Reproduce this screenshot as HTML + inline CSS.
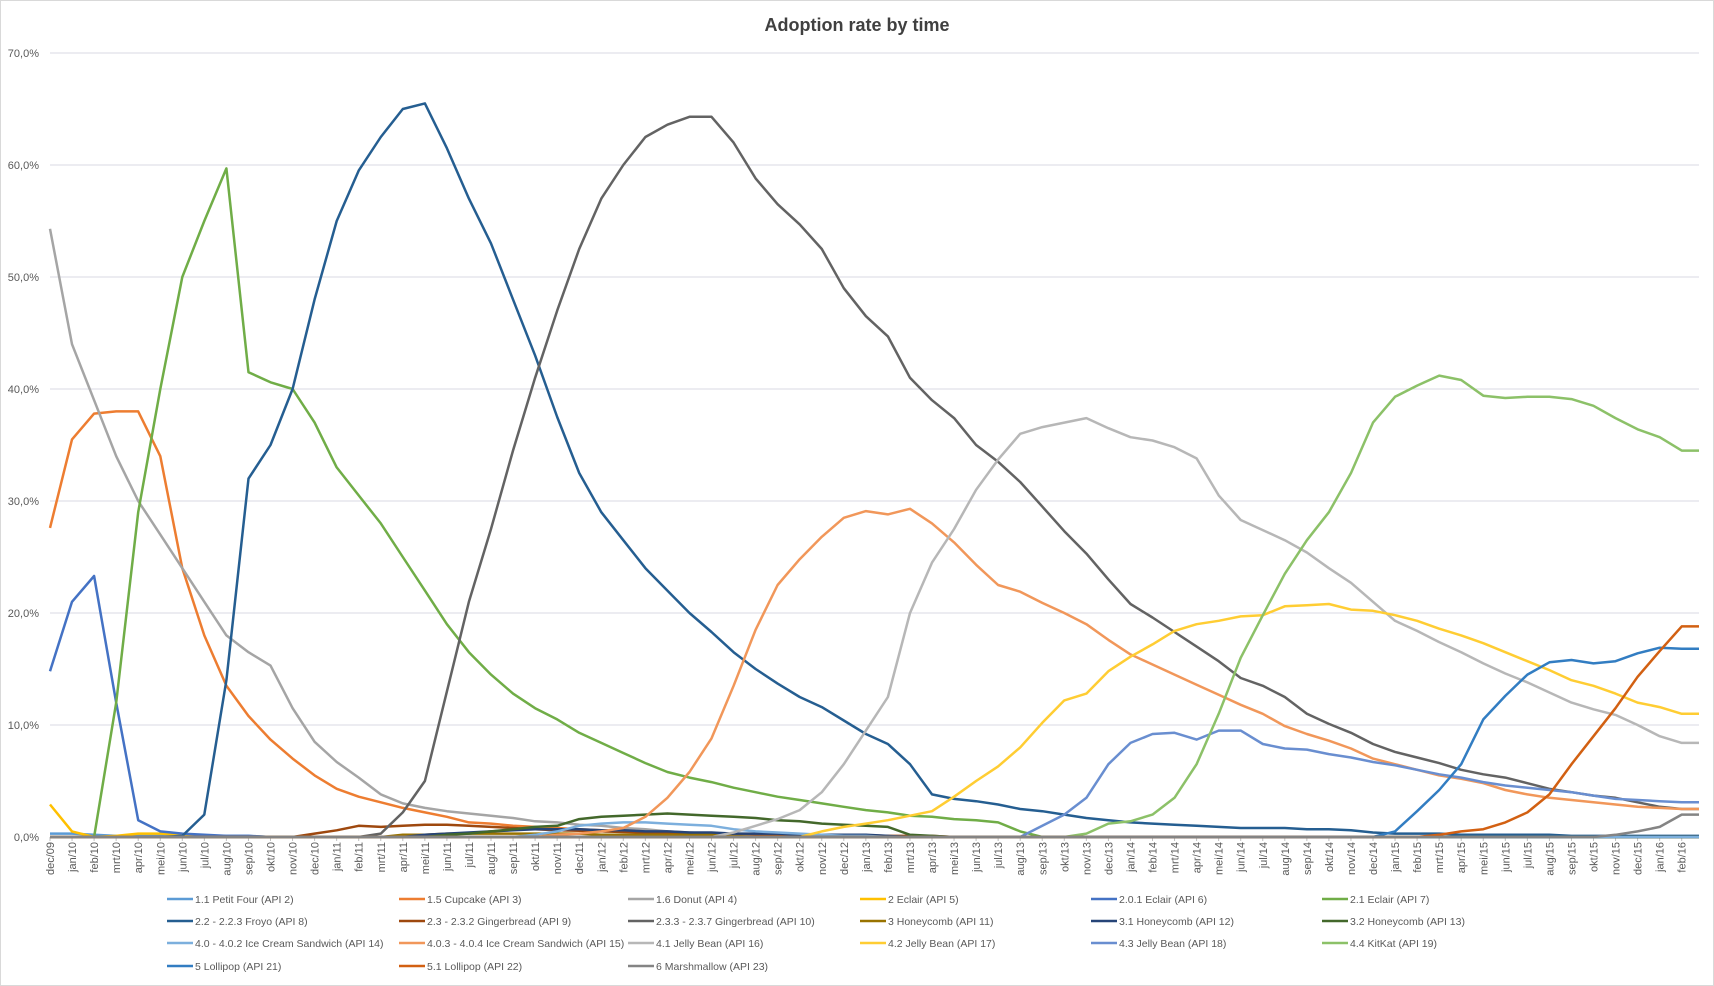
<!DOCTYPE html>
<html><head><meta charset="utf-8"><style>
body{margin:0;background:#fff;}
#wrap{position:relative;width:1714px;height:986px;overflow:hidden;background:#fff;font-family:"Liberation Sans",sans-serif;}
</style></head><body>
<div id="wrap">
<svg id="chart" width="1714" height="986" xmlns="http://www.w3.org/2000/svg">
<rect x="0.5" y="0.5" width="1713" height="985" fill="#fff" stroke="#d9d9d9"/>
<text x="857" y="31" text-anchor="middle" font-size="18" font-weight="bold" fill="#404040" font-family="Liberation Sans, sans-serif">Adoption  rate by time</text>
<g id="grid"></g><g id="xlabels"></g><g id="lines"></g><g id="legend"></g>
</svg>
</div>
<script>
const monthLabels=["dec/09","jan/10","feb/10","mrt/10","apr/10","mei/10","jun/10","jul/10","aug/10","sep/10","okt/10","nov/10","dec/10","jan/11","feb/11","mrt/11","apr/11","mei/11","jun/11","jul/11","aug/11","sep/11","okt/11","nov/11","dec/11","jan/12","feb/12","mrt/12","apr/12","mei/12","jun/12","jul/12","aug/12","sep/12","okt/12","nov/12","dec/12","jan/13","feb/13","mrt/13","apr/13","mei/13","jun/13","jul/13","aug/13","sep/13","okt/13","nov/13","dec/13","jan/14","feb/14","mrt/14","apr/14","mei/14","jun/14","jul/14","aug/14","sep/14","okt/14","nov/14","dec/14","jan/15","feb/15","mrt/15","apr/15","mei/15","jun/15","jul/15","aug/15","sep/15","okt/15","nov/15","dec/15","jan/16","feb/16"];
const yTicks=[0,10,20,30,40,50,60,70];
const yTickLabels=["0,0%","10,0%","20,0%","30,0%","40,0%","50,0%","60,0%","70,0%"];
const seriesNames=["1.1 Petit Four (API 2)","1.5 Cupcake (API 3)","1.6 Donut (API 4)","2 Eclair (API 5)","2.0.1 Eclair (API 6)","2.1 Eclair (API 7)","2.2 - 2.2.3 Froyo (API 8)","2.3 - 2.3.2 Gingerbread (API 9)","2.3.3 - 2.3.7 Gingerbread (API 10)","3 Honeycomb (API 11)","3.1 Honeycomb (API 12)","3.2 Honeycomb (API 13)","4.0 - 4.0.2 Ice Cream Sandwich (API 14)","4.0.3 - 4.0.4 Ice Cream Sandwich (API 15)","4.1 Jelly Bean (API 16)","4.2 Jelly Bean (API 17)","4.3 Jelly Bean (API 18)","4.4 KitKat (API 19)","5 Lollipop (API 21)","5.1 Lollipop (API 22)","6 Marshmallow (API 23)"];
const seriesColors=["#5b9bd5","#ed7d31","#a5a5a5","#ffc000","#4472c4","#70ad47","#255e91","#9e480e","#636363","#997300","#264478","#43682b","#7cafdd","#f1975a","#b7b7b7","#ffcd33","#698ed0","#8cc168","#327dc2","#d26012","#848484"];
// each series: start month index + values
const petitFour=[0,0.3,0.3,0.2,0.1,0.1,0.1,0.1,0.1,0.1,0.1];
const cupcake=[0,27.6,35.5,37.8,38,38,34,24,18,13.5,10.8,8.7,7,5.5,4.3,3.6,3.1,2.6,2.2,1.8,1.3,1.2,1.0,0.9,0.8,0.7,0.6,0.5,0.4,0.3,0.3,0.2,0.1,0];
const donut=[0,54.3,44,39,34,30,27,24,21,18,16.5,15.3,11.5,8.5,6.7,5.3,3.8,3,2.6,2.3,2.1,1.9,1.7,1.4,1.3,1.1,1.0,0.8,0.7,0.5,0.4,0.3,0.2,0.1,0];
const eclair5=[0,2.9,0.5,0,0.1,0.3,0.3,0.2,0.1,0];
const eclair6=[0,14.8,21,23.3,12,1.5,0.5,0.3,0.2,0.1,0.1,0];
const eclair7=[0,0,0,0,12,29,40,50,55,59.7,41.5,40.6,40,37,33,30.5,28,25,22,19,16.5,14.5,12.8,11.5,10.5,9.3,8.4,7.5,6.6,5.8,5.3,4.9,4.4,4,3.6,3.3,3.0,2.7,2.4,2.2,1.9,1.8,1.6,1.5,1.3,0.5,0];
const froyo=[5,0,0.1,2,14,32,35,40,48,55,59.5,62.5,65,65.5,61.5,57,53,48,43,37.5,32.5,29,26.5,24,22,20,18.3,16.5,15,13.7,12.5,11.6,10.4,9.2,8.3,6.5,3.8,3.4,3.2,2.9,2.5,2.3,2.0,1.7,1.5,1.3,1.2,1.1,1.0,0.9,0.8,0.8,0.8,0.7,0.7,0.6,0.4,0.3,0.3,0.3,0.2,0.2,0.2,0.2,0.2,0.1,0.1,0.1,0.1,0.1,0.1];
const ginger9=[11,0,0.3,0.6,1.0,0.9,1.0,1.1,1.1,1.0,0.9,0.8,0.7,0.6,0.55,0.5,0.45,0.4,0.35,0.3,0.3,0.3,0.25,0.2,0.2,0.2,0.2,0.15,0.1,0.1,0.1,0];
const ginger10=[14,0,0.3,2.2,5,13,21,27.5,34.5,41,47,52.5,57,60,62.5,63.6,64.3,64.3,62,58.8,56.5,54.7,52.5,49,46.5,44.7,41,39,37.4,35,33.5,31.7,29.5,27.3,25.3,23,20.8,19.6,18.3,17,15.7,14.2,13.5,12.5,11,10.1,9.3,8.3,7.6,7.1,6.6,6.0,5.6,5.3,4.8,4.3,4.0,3.7,3.5,3.1,2.7,2.5];
const honey11=[15,0,0.2,0.2,0.3,0.3,0.3,0.3,0.3,0.3,0.3,0.2,0.2,0.2,0.2,0.2,0.2,0.1,0];
const honey12=[16,0,0.2,0.3,0.4,0.5,0.6,0.7,0.7,0.7,0.6,0.6,0.5,0.5,0.4,0.4,0.3,0.3,0.3,0.2,0.2,0.2,0.2,0.1,0];
const honey13=[17,0,0.2,0.3,0.5,0.7,0.9,1.0,1.6,1.8,1.9,2.0,2.1,2.0,1.9,1.8,1.7,1.5,1.4,1.2,1.1,1.0,0.9,0.2,0.1,0];
const ics14=[21,0,0.2,0.5,1.0,1.2,1.3,1.3,1.2,1.1,1.0,0.7,0.5,0.4,0.3,0.2,0.1,0.1,0];
const ics15=[23,0.2,0.3,0.5,0.8,1.8,3.5,5.8,8.8,13.5,18.5,22.5,24.8,26.8,28.5,29.1,28.8,29.3,28,26.3,24.3,22.5,21.9,20.9,20,19,17.6,16.3,15.4,14.5,13.6,12.7,11.8,11,9.9,9.2,8.6,7.9,7.0,6.5,6.0,5.5,5.2,4.8,4.2,3.8,3.5,3.3,3.1,2.9,2.7,2.6,2.5];
const jb16=[30,0,0.4,1,1.6,2.4,4,6.5,9.5,12.5,20,24.5,27.5,31,33.7,36,36.6,37,37.4,36.5,35.7,35.4,34.8,33.8,30.5,28.3,27.4,26.5,25.4,24,22.7,21,19.3,18.4,17.4,16.5,15.5,14.6,13.8,12.9,12,11.4,10.9,10,9,8.4];
const jb17=[34,0,0.5,0.9,1.2,1.5,1.9,2.3,3.6,5,6.3,8,10.2,12.2,12.8,14.8,16.1,17.2,18.4,19,19.3,19.7,19.8,20.6,20.7,20.8,20.3,20.2,19.8,19.3,18.6,18,17.3,16.5,15.7,14.9,14,13.5,12.8,12,11.6,11];
const jb18=[44,0,1.0,2.0,3.5,6.5,8.4,9.2,9.3,8.7,9.5,9.5,8.3,7.9,7.8,7.4,7.1,6.7,6.4,6.0,5.6,5.3,4.9,4.6,4.4,4.2,4.0,3.7,3.4,3.3,3.2,3.1];
const kitkat=[46,0,0.3,1.2,1.4,2.0,3.5,6.5,11,16,19.8,23.5,26.5,29,32.5,37,39.3,40.3,41.2,40.8,39.4,39.2,39.3,39.3,39.1,38.5,37.4,36.4,35.7,34.5];
const lollipop=[60,0,0.5,2.3,4.2,6.5,10.5,12.6,14.5,15.6,15.8,15.5,15.7,16.4,16.9,16.8];
const lollipop1=[62,0,0.2,0.5,0.7,1.3,2.2,3.8,6.5,9,11.5,14.3,16.6,18.8];
const marshmallow=[69,0,0,0.2,0.5,0.9,2.0];
const allSeries=[petitFour,cupcake,donut,eclair5,eclair6,eclair7,froyo,ginger9,ginger10,honey11,honey12,honey13,ics14,ics15,jb16,jb17,jb18,kitkat,lollipop,lollipop1,marshmallow];

const NS="http://www.w3.org/2000/svg";
const X0=50,PX_M=22.05,Y0=837,PX_P=11.2,XEND=1699;
function xScale(m){return X0+m*PX_M;}
function yScale(v){return Y0-v*PX_P;}
const grid=document.getElementById('grid');
yTicks.forEach((t,i)=>{
  const l=document.createElementNS(NS,'line');
  l.setAttribute('x1',X0);l.setAttribute('x2',XEND);l.setAttribute('y1',yScale(t));l.setAttribute('y2',yScale(t));
  l.setAttribute('stroke',t===0?'#bfbfbf':'#d9d9e3');l.setAttribute('stroke-width','1');
  
  
  grid.appendChild(l);
  const tx=document.createElementNS(NS,'text');
  tx.setAttribute('x',39);tx.setAttribute('y',yScale(t)+4);tx.setAttribute('text-anchor','end');
  tx.setAttribute('font-size','11');tx.setAttribute('fill','#595959');
  tx.textContent=yTickLabels[i];
  
  
  grid.appendChild(tx);
});
const xl=document.getElementById('xlabels');
monthLabels.forEach((lab,i)=>{
  const x=xScale(i);
  const tk=document.createElementNS(NS,'line');
  tk.setAttribute('x1',x);tk.setAttribute('x2',x);tk.setAttribute('y1',Y0);tk.setAttribute('y2',Y0+4);tk.setAttribute('stroke','#bfbfbf');
  
  
  xl.appendChild(tk);
  const t=document.createElementNS(NS,'text');
  t.setAttribute('transform','translate('+(x+4)+','+(Y0+5)+') rotate(-90)');
  t.setAttribute('text-anchor','end');t.setAttribute('font-size','11');t.setAttribute('fill','#595959');
  t.textContent=lab;
  
  
  xl.appendChild(t);
});
const lines=document.getElementById('lines');
allSeries.forEach((s,si)=>{
  const start=s[0],vals=s.slice(1);
  const full=[];
  for(let m=0;m<monthLabels.length;m++){
    let v=0;
    if(m>=start&&m-start<vals.length)v=vals[m-start];
    full.push(v);
  }
  let d='';
  full.forEach((v,m)=>{d+=(m?'L':'M')+xScale(m).toFixed(1)+','+yScale(v).toFixed(1);});
  d+='L'+XEND+','+yScale(full[full.length-1]).toFixed(1);
  const p=document.createElementNS(NS,'path');
  p.setAttribute('d',d);p.setAttribute('fill','none');p.setAttribute('stroke',seriesColors[si]);
  p.setAttribute('stroke-width','2.5');p.setAttribute('stroke-linejoin','round');
  
  
  lines.appendChild(p);
});
const lg=document.getElementById('legend');
const colX=[167,399,628,860,1091,1322],rowY=[899,921,943,966];
seriesNames.forEach((n,i)=>{
  const cx=colX[i%6],cy=rowY[Math.floor(i/6)];
  const g=document.createElementNS(NS,'g');
  
  
  const l=document.createElementNS(NS,'line');
  l.setAttribute('x1',cx);l.setAttribute('x2',cx+26);l.setAttribute('y1',cy);l.setAttribute('y2',cy);
  l.setAttribute('stroke',seriesColors[i]);l.setAttribute('stroke-width','2.5');
  g.appendChild(l);
  const t=document.createElementNS(NS,'text');
  t.setAttribute('x',cx+28);t.setAttribute('y',cy+4);t.setAttribute('font-size','10.5');t.setAttribute('fill','#595959');
  t.textContent=n;
  g.appendChild(t);
  lg.appendChild(g);
});
</script>
</body></html>
